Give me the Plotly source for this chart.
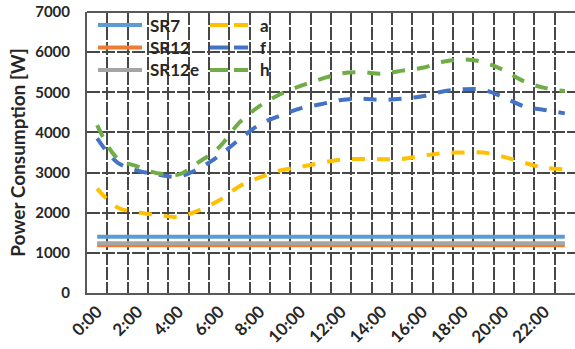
import plotly.graph_objects as go

# Hourly power consumption, 0:00 .. 23:00
hours = list(range(24))
tick_hours = list(range(0, 24, 2))
tick_labels = [f"{h}:00" for h in tick_hours]

# Constant reference loads [W]
sr7 = [1400] * 24
sr12 = [1190] * 24
sr12e = [1240] * 24

# Daily load profiles [W]
profile_a = [2600, 2130, 2010, 1940, 1900, 2060, 2310, 2660, 2880, 3050, 3140, 3240,
             3320, 3340, 3330, 3340, 3420, 3485, 3500, 3500, 3390, 3245, 3120, 3080]
profile_f = [3850, 3250, 3050, 2950, 2900, 3100, 3420, 3830, 4200, 4420, 4600, 4700,
             4810, 4840, 4810, 4840, 4900, 5020, 5075, 5060, 4870, 4650, 4560, 4475]
profile_h = [4180, 3350, 3150, 2980, 2950, 3260, 3630, 4250, 4660, 4950, 5160, 5330,
             5470, 5500, 5460, 5540, 5610, 5760, 5820, 5750, 5550, 5270, 5110, 5030]

FONT = "Lato"
TXT = "#262626"
GRID = "#474747"
AXIS = "#595959"
DASH = "13px,12px"

fig = go.Figure()

solid = [("SR7", sr7, "#5B9BD5"), ("SR12", sr12, "#ED7D31"), ("SR12e", sr12e, "#A5A5A5")]
dashed = [("a", profile_a, "#FFC000"), ("f", profile_f, "#4472C4"), ("h", profile_h, "#70AD47")]

for name, ys, col in solid:
    fig.add_trace(go.Scatter(x=hours, y=ys, name=name, mode="lines",
                             line=dict(color=col, width=4)))
for name, ys, col in dashed:
    fig.add_trace(go.Scatter(x=hours, y=ys, name=name, mode="lines",
                             line=dict(color=col, width=4, dash=DASH, shape="spline")))

half_hours = [h + 0.5 for h in range(23)]

fig.update_xaxes(
    range=[-0.5, 23.5], tickmode="array", tickvals=tick_hours, ticktext=tick_labels,
    tickangle=-45, showgrid=False, zeroline=False,
    showline=True, linecolor=AXIS, linewidth=2,
    tickfont=dict(family=FONT, size=17, color=TXT, weight="bold"),
    minor=dict(tickmode="array", tickvals=half_hours, showgrid=True,
               gridcolor=GRID, gridwidth=1.5, griddash="13px,2px"),
)
fig.update_yaxes(
    range=[0, 7000], dtick=1000, showgrid=True, gridcolor=GRID, gridwidth=1.5,
    griddash="13px,2px", zeroline=False, showline=True, linecolor=AXIS, linewidth=2,
    ticklabelstandoff=12,
    tickfont=dict(family=FONT, size=15, color=TXT, weight="bold"),
    title=dict(text="Power Consumption [W]", standoff=5,
               font=dict(family=FONT, size=19, color=TXT, weight="bold")),
)

# plot-area top border and the white panel behind the key
fig.add_shape(type="line", xref="paper", yref="paper", x0=0, x1=1, y0=1, y1=1,
              line=dict(color=AXIS, width=2))
fig.add_shape(type="rect", xref="paper", yref="paper", x0=0.003, x1=0.461,
              y0=0.748, y1=0.99, fillcolor="white", line=dict(width=0), layer="between")

# two-column key: solid series on the left, dashed profiles on the right
rows_y = [0.9537, 0.8737, 0.7936]
columns = [(solid, 0.0225, 0.1127, 0.1250, "solid"),
           (dashed, 0.252, 0.330, 0.350, "18px,6px")]
for series, x0, x1, xt, dash in columns:
    for (name, _, col), yy in zip(series, rows_y):
        fig.add_shape(type="line", xref="paper", yref="paper", x0=x0, x1=x1,
                      y0=yy, y1=yy, line=dict(color=col, width=4, dash=dash))
        fig.add_annotation(text=name, xref="paper", yref="paper", x=xt, y=yy,
                           xanchor="left", yanchor="middle", showarrow=False,
                           font=dict(family=FONT, size=17, color=TXT, weight="bold"))

fig.update_layout(
    width=575, height=349,
    margin=dict(l=87, r=0, t=12, b=56),
    paper_bgcolor="white", plot_bgcolor="white",
    showlegend=False,
)

fig.write_html("out.html")
